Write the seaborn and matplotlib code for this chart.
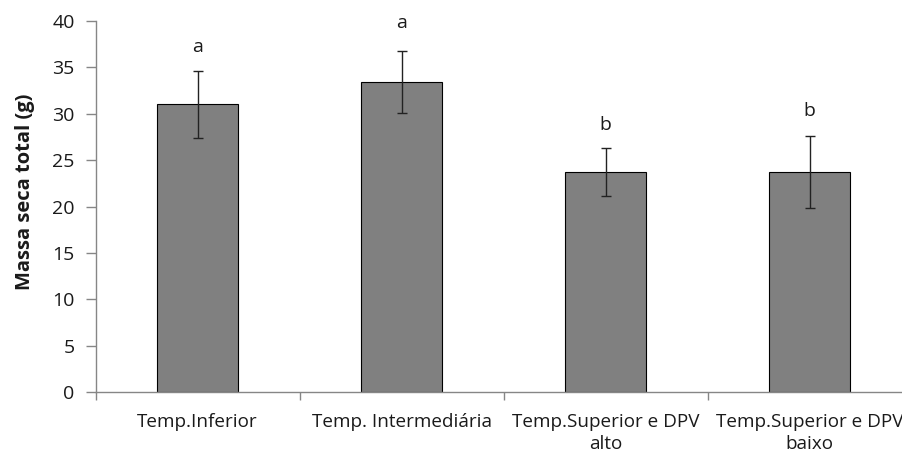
import matplotlib
matplotlib.use("Agg")
import matplotlib.pyplot as plt
import seaborn as sns
import pandas as pd
import numpy as np

categories = ["Temp.Inferior", "Temp. Intermediária", "Temp.Superior e DPV\nalto", "Temp.Superior e DPV\nbaixo"]
means = [31.0, 33.4, 23.75, 23.7]
errors = [3.6, 3.35, 2.6, 3.85]
letters = ["a", "a", "b", "b"]
letter_y = [37.2, 39.8, 28.8, 30.3]
yticks = [0, 5, 10, 15, 20, 25, 30, 35, 40]

sns.set_style("white")
plt.rcParams["font.family"] = ["Open Sans", "DejaVu Sans"]

df = pd.DataFrame({"cat": categories, "val": means})

fig = plt.figure(figsize=(9.02, 4.57), dpi=100)
ax = fig.add_axes([95.5 / 902, 65 / 457, 816 / 902, 371 / 457])

sns.barplot(data=df, x="cat", y="val", color="#808080", edgecolor="black",
            linewidth=0.8, width=0.4, saturation=1, ax=ax)
ax.errorbar(np.arange(len(means)), means, yerr=errors, fmt="none",
            ecolor="#222222", elinewidth=1.0, capsize=3.6, capthick=1.0)
for i, (t, y) in enumerate(zip(letters, letter_y)):
    ax.text(i, y, t, ha="center", va="center", fontsize=14, color="#1a1a1a")

ax.set_xlim(-0.5, 3.5)
ax.set_ylim(0, 40)
ax.set_yticks(yticks)
ax.set_yticklabels([str(v) for v in yticks], fontsize=14, color="#1a1a1a")
ax.set_xlabel("")
ax.set_ylabel("Massa seca total (g)", fontsize=14.5, fontweight="bold", color="#1a1a1a")
ax.yaxis.set_label_coords(-0.074, 0.539)

for s in ["top", "right"]:
    ax.spines[s].set_visible(False)
for s in ["left", "bottom"]:
    ax.spines[s].set_color("#868686")
    ax.spines[s].set_linewidth(1.0)

ax.tick_params(axis="y", which="major", direction="out", length=7, width=1.0,
               color="#868686", pad=8, left=True)
ax.tick_params(axis="x", which="major", length=0, pad=15, labelsize=13.6, labelcolor="#1a1a1a")
ax.set_xticks(np.arange(-0.5, 4.0, 1.0), minor=True)
ax.tick_params(axis="x", which="minor", direction="out", length=6, width=1.0,
               color="#868686", bottom=True)
for lab in ax.get_xticklabels():
    lab.set_ha("center")
    lab.set_multialignment("center")
    lab.set_linespacing(1.3)

fig.savefig("out.png", dpi=100)
